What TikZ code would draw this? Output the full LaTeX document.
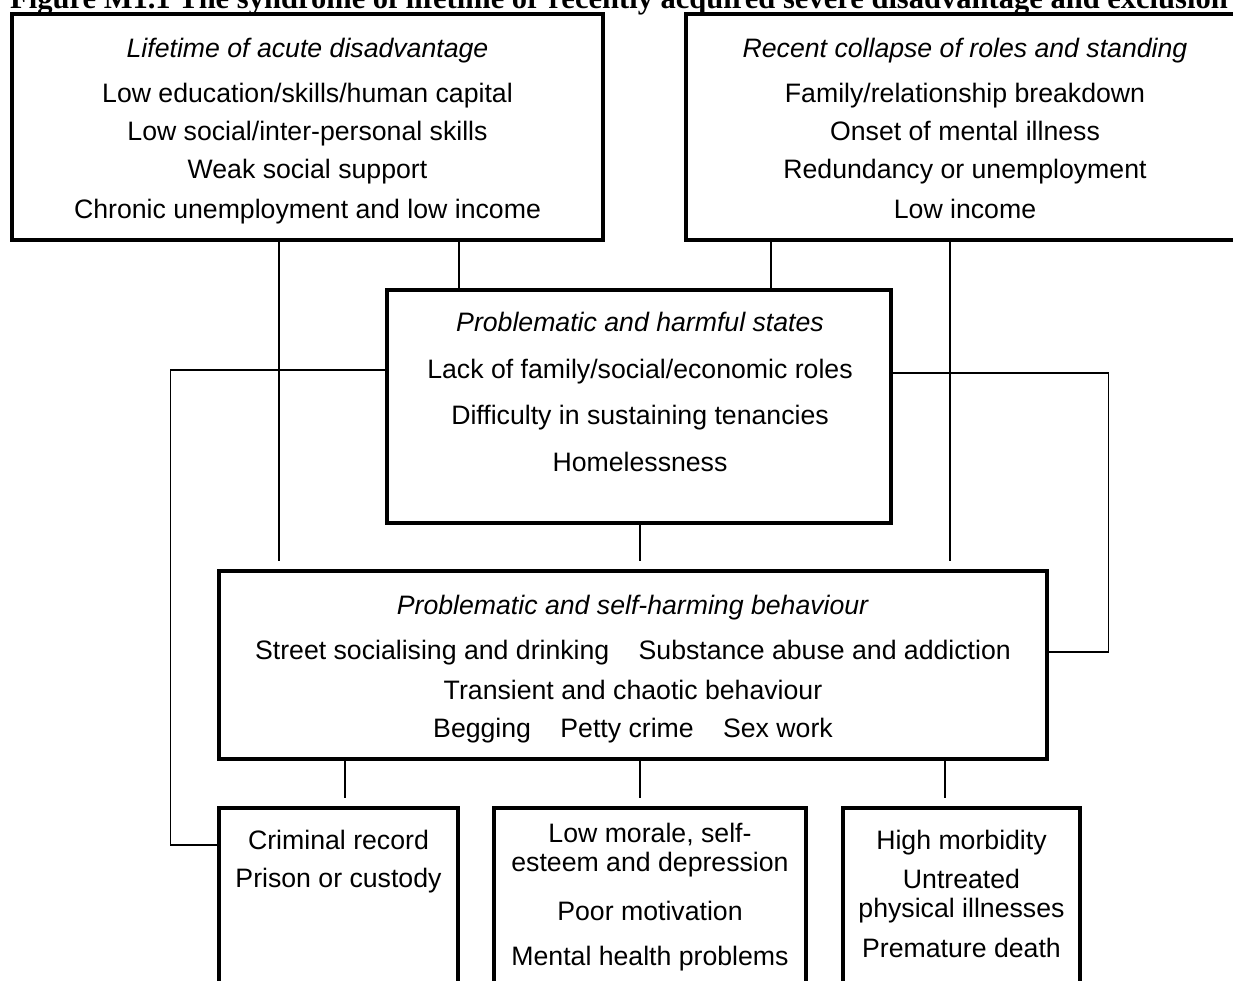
\documentclass[tikz,border=0pt]{standalone}
\usepackage{fontspec}
\setmainfont{Liberation Sans}
\newfontfamily\titlefont{Liberation Serif}

\begin{document}
\begin{tikzpicture}[x=0.75pt,y=-0.75pt,
  box/.style={draw,line width=2.6pt,inner sep=0pt},
  txt/.style={align=center,inner sep=0pt,anchor=north,font=\fontsize{20}{21.75}\selectfont},
  link/.style={line width=1.1pt},
  gap/.style={shorten >=6pt}]
  \useasboundingbox (0,0) rectangle (1233,981);

  \node[anchor=base,font=\titlefont\bfseries\fontsize{22.9}{26}\selectfont] (title) at (619,9)
    {Figure M1.1 The syndrome of lifetime or recently acquired severe disadvantage and exclusion};

  % boxes
  \node[box,minimum width=443.25pt,minimum height=169.5pt] (life) at (307.5,127) {};
  \node[box,minimum width=418.5pt,minimum height=169.5pt] (recent) at (965,127) {};
  \node[box,minimum width=378pt,minimum height=174.75pt] (states) at (639,406.5) {};
  \node[box,minimum width=621pt,minimum height=141pt] (behav) at (633,665) {};
  \node[box,minimum width=179.25pt,minimum height=144pt] (crime) at (338.5,904) {};
  \node[box,minimum width=234pt,minimum height=144pt] (morale) at (650,904) {};
  \node[box,minimum width=177.75pt,minimum height=144pt] (health) at (961.5,904) {};

  % texts
  \node[txt] (lifetxt) at (307.5,38) {\textit{Lifetime of acute disadvantage}\\[12pt]
    Low education/skills/human capital\\[6.75pt]
    Low social/inter-personal skills\\[6.75pt]
    Weak social support\\[8pt]
    Chronic unemployment and low income};
  \node[txt] (recenttxt) at (965,38) {\textit{Recent collapse of roles and standing}\\[12pt]
    Family/relationship breakdown\\[6.75pt]
    Onset of mental illness\\[6.75pt]
    Redundancy or unemployment\\[8pt]
    Low income};
  \node[txt] (statestxt) at (640,312) {\textit{Problematic and harmful states}\\[13.5pt]
    Lack of family/social/economic roles\\[13pt]
    Difficulty in sustaining tenancies\\[13.5pt]
    Homelessness};
  \node[txt] (behavtxt) at (633,595) {\textit{Problematic and self-harming behaviour}\\[12pt]
    Street socialising and drinking\hspace{22pt}Substance abuse and addiction\\[8pt]
    Transient and chaotic behaviour\\[6.75pt]
    Begging\hspace{22pt}Petty crime\hspace{22pt}Sex work};
  \node[txt] (crimetxt) at (338.5,830) {Criminal record\\[6.75pt]
    Prison or custody};
  \node[txt] (moraletxt) at (650,823) {Low morale, self-\\
    esteem and depression\\[15pt]
    Poor motivation\\[12pt]
    Mental health problems};
  \node[txt] (healthtxt) at (961.5,830) {High morbidity\\[7.5pt]
    Untreated\\
    physical illnesses\\[8pt]
    Premature death};

  % connectors
  \draw[link] (life.south -| 459,0) -- (states.north -| 459,0);
  \draw[link] (recent.south -| 771,0) -- (states.north -| 771,0);
  \draw[link,gap] (life.south -| 279,0) -- (behav.north -| 279,0);
  \draw[link,gap] (recent.south -| 950,0) -- (behav.north -| 950,0);
  \draw[link,gap] (states.south -| 640,0) -- (behav.north -| 640,0);
  \draw[link] (states.west |- 0,370) -- ++(-215,0) |- (crime.west |- 0,845);
  \draw[link] (states.east |- 0,373) -- ++(216,0) |- (behav.east |- 0,652);
  \draw[link,gap] (behav.south -| 345,0) -- (crime.north -| 345,0);
  \draw[link,gap] (behav.south -| 640,0) -- (morale.north -| 640,0);
  \draw[link,gap] (behav.south -| 945,0) -- (health.north -| 945,0);
\end{tikzpicture}
\end{document}
